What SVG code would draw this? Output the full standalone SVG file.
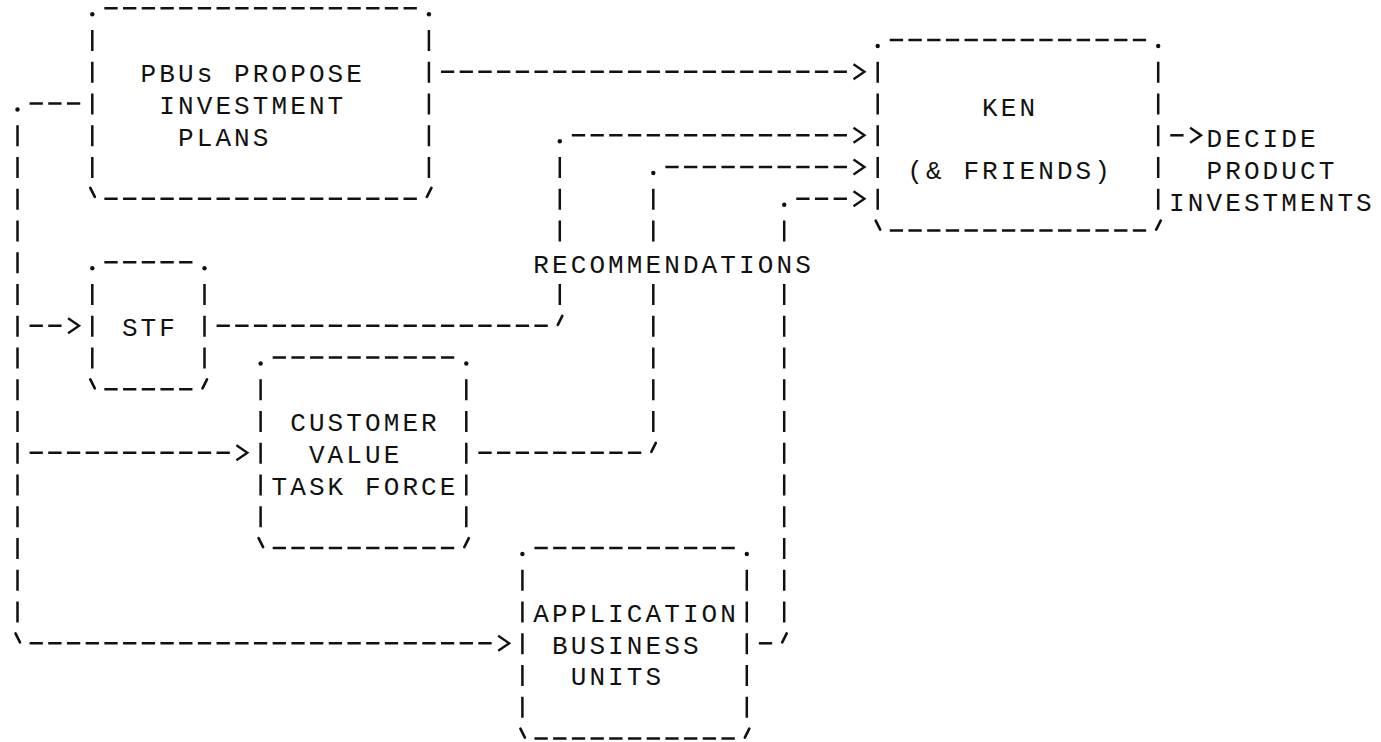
<svg xmlns="http://www.w3.org/2000/svg" width="1381" height="742" viewBox="0 0 1381 742">
  <style>
    .ln { stroke: #111; stroke-width: 2.5; fill: none; }
    .h { stroke-dasharray: 13.3 5.4; }
    .v { stroke-dasharray: 21 10.75; }
    .dot { fill: #111; }
    .tk { stroke: #111; stroke-width: 2.6; stroke-linecap: round; fill: none; }
    .arr { stroke: #111; stroke-width: 2.3; fill: none; stroke-linejoin: miter; }
    .t { font-family: "Liberation Mono", "DejaVu Sans Mono", monospace; font-size: 26px; letter-spacing: 3.1px; fill: #111; }
  </style>
  <rect width="1381" height="742" fill="#fff"/>

  <!-- PBUs propose investment plans -->
  <g id="pbus">
    <path class="ln h" d="M104.35 8.3H416.85M104.35 198.8H416.85"/>
    <path class="ln v" d="M92.3 30.05V178.05M428.9 30.05V178.05"/>
    <circle class="dot" cx="92.3" cy="14.3" r="2.2"/>
    <circle class="dot" cx="428.9" cy="14.3" r="2.2"/>
    <path class="tk" d="M90.3 187.8L94.8 196.8M431.4 187.8L426.9 196.8"/>
    <text class="t" x="140.6" y="82.4">PBUs PROPOSE</text>
    <text class="t" x="159.3" y="114.1">INVESTMENT</text>
    <text class="t" x="178" y="145.9">PLANS</text>
  </g>

  <!-- Ken & friends -->
  <g id="ken">
    <path class="ln h" d="M889.75 40.05H1146.15M889.75 230.55H1146.15"/>
    <path class="ln v" d="M877.7 61.8V209.8M1158.2 61.8V209.8"/>
    <circle class="dot" cx="877.7" cy="46.05" r="2.2"/>
    <circle class="dot" cx="1158.2" cy="46.05" r="2.2"/>
    <path class="tk" d="M875.7 220.55L880.2 229.55M1160.7 220.55L1156.2 229.55"/>
    <text class="t" x="982.1" y="115.6">KEN</text>
    <text class="t" x="907.3" y="179.3">(&amp; FRIENDS)</text>
  </g>

  <!-- STF -->
  <g id="stf">
    <path class="ln h" d="M104.35 262.3H192.45M104.35 389.3H192.45"/>
    <path class="ln v" d="M92.3 284.05V368.55M204.5 284.05V368.55"/>
    <circle class="dot" cx="92.3" cy="268.3" r="2.2"/>
    <circle class="dot" cx="204.5" cy="268.3" r="2.2"/>
    <path class="tk" d="M90.3 379.3L94.8 388.3M207 379.3L202.5 388.3"/>
    <text class="t" x="121.9" y="336.1">STF</text>
  </g>

  <!-- Customer value task force -->
  <g id="cvtf">
    <path class="ln h" d="M272.65 357.55H454.25M272.65 548.05H454.25"/>
    <path class="ln v" d="M260.6 379.3V527.3M466.3 379.3V527.3"/>
    <circle class="dot" cx="260.6" cy="363.55" r="2.2"/>
    <circle class="dot" cx="466.3" cy="363.55" r="2.2"/>
    <path class="tk" d="M258.6 538.05L263.1 547.05M468.8 538.05L464.3 547.05"/>
    <text class="t" x="290.2" y="431.35">CUSTOMER</text>
    <text class="t" x="308.9" y="463.1">VALUE</text>
    <text class="t" x="271.5" y="494.85">TASK FORCE</text>
  </g>

  <!-- Application business units -->
  <g id="abu">
    <path class="ln h" d="M534.45 548.05H734.75M534.45 738.55H734.75"/>
    <path class="ln v" d="M522.4 569.8V717.8M746.8 569.8V717.8"/>
    <circle class="dot" cx="522.4" cy="554.05" r="2.2"/>
    <circle class="dot" cx="746.8" cy="554.05" r="2.2"/>
    <path class="tk" d="M520.4 728.55L524.9 737.55M749.3 728.55L744.8 737.55"/>
    <text class="t" x="533.3" y="621.85">APPLICATION</text>
    <text class="t" x="552" y="653.6">BUSINESS</text>
    <text class="t" x="570.7" y="685.35">UNITS</text>
  </g>

  <!-- Outcome -->
  <g id="decision">
    <text class="t" x="1206.5" y="146.6">DECIDE</text>
    <text class="t" x="1206.5" y="179.3">PRODUCT</text>
    <text class="t" x="1169.1" y="211.1">INVESTMENTS</text>
  </g>

  <g id="connectors">
    <!-- PBUs to Ken -->
    <path class="ln h" d="M440.95 71.8H846.95"/>
    <path class="arr" d="M853.5 64.3L864.5 71.8L853.5 79.3"/>

    <!-- PBUs trunk down the left side to the three groups -->
    <circle class="dot" cx="17.5" cy="109.55" r="2.2"/>
    <path class="ln h" d="M29.55 103.55H80.25"/>
    <path class="ln v" d="M17.5 125.3V622.55"/>
    <path class="tk" d="M15.5 633.3L20 642.3"/>
    <path class="ln h" d="M29.55 325.8H61.55"/>
    <path class="arr" d="M68.1 318.3L79.1 325.8L68.1 333.3"/>
    <path class="ln h" d="M29.55 452.8H229.85"/>
    <path class="arr" d="M236.4 445.3L247.4 452.8L236.4 460.3"/>
    <path class="ln h" d="M29.55 643.3H491.65"/>
    <path class="arr" d="M498.2 635.8L509.2 643.3L498.2 650.8"/>

    <!-- STF recommendations to Ken -->
    <path class="ln h" d="M216.55 325.8H547.75"/>
    <path class="tk" d="M562.3 315.8L557.8 324.8"/>
    <path class="ln v" d="M559.8 284.05V305.05M559.8 157.05V241.55"/>
    <circle class="dot" cx="559.8" cy="141.3" r="2.2"/>
    <path class="ln h" d="M571.85 135.3H846.95"/>
    <path class="arr" d="M853.5 127.8L864.5 135.3L853.5 142.8"/>

    <!-- Customer value task force recommendations to Ken -->
    <path class="ln h" d="M478.35 452.8H641.25"/>
    <path class="tk" d="M655.8 442.8L651.3 451.8"/>
    <path class="ln v" d="M653.3 284.05V432.05M653.3 188.8V241.55"/>
    <circle class="dot" cx="653.3" cy="173.05" r="2.2"/>
    <path class="ln h" d="M665.35 167.05H846.95"/>
    <path class="arr" d="M853.5 159.55L864.5 167.05L853.5 174.55"/>

    <!-- Application business units recommendations to Ken -->
    <path class="ln h" d="M758.85 643.3H772.15"/>
    <path class="tk" d="M786.7 633.3L782.2 642.3"/>
    <path class="ln v" d="M784.2 284.05V622.55M784.2 220.55V241.55"/>
    <circle class="dot" cx="784.2" cy="204.8" r="2.2"/>
    <path class="ln h" d="M796.25 198.8H846.95"/>
    <path class="arr" d="M853.5 191.3L864.5 198.8L853.5 206.3"/>

    <text class="t" x="533.3" y="272.6">RECOMMENDATIONS</text>

    <!-- Ken to decision -->
    <path class="ln h" d="M1170.25 135.3H1183.55"/>
    <path class="arr" d="M1190.1 127.8L1201.1 135.3L1190.1 142.8"/>
  </g>
</svg>
